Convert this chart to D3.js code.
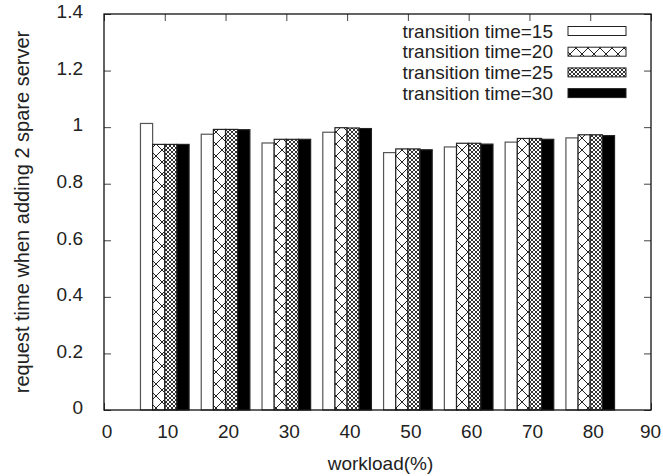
<!DOCTYPE html>
<html><head><meta charset="utf-8">
<script src="https://cdn.jsdelivr.net/npm/d3@7"></script>
<style>body{margin:0;background:#fff}svg{display:block}text{font-family:"Liberation Sans",Arial,sans-serif;fill:#222}</style>
</head><body><svg id="c" width="663" height="476"></svg>
<script>
const workloads = [10, 20, 30, 40, 50, 60, 70, 80];
const seriesNames = ["transition time=15", "transition time=20", "transition time=25", "transition time=30"];
const t15 = [1.013, 0.975, 0.944, 0.982, 0.910, 0.930, 0.947, 0.962];
const t20 = [0.939, 0.992, 0.957, 0.998, 0.923, 0.943, 0.960, 0.973];
const t25 = [0.939, 0.992, 0.957, 0.997, 0.923, 0.943, 0.960, 0.973];
const t30 = [0.939, 0.991, 0.957, 0.995, 0.920, 0.940, 0.957, 0.970];
const xTicks = [0, 10, 20, 30, 40, 50, 60, 70, 80, 90];
const yTicks = [0, 0.2, 0.4, 0.6, 0.8, 1, 1.2, 1.4];
const series = [t15, t20, t25, t30];
const fills = ["#fff", "url(#hatch)", "url(#dense)", "#000"];

const svg = d3.select("#c");
const m = {l: 104, r: 651, t: 14, b: 410};
const x = d3.scaleLinear().domain([0, 90]).range([m.l, m.r]);
const y = d3.scaleLinear().domain([0, 1.4]).range([m.b, m.t]);

const defs = svg.append("defs");
const h = defs.append("pattern").attr("id", "hatch").attr("patternUnits", "userSpaceOnUse")
  .attr("width", 12).attr("height", 12);
h.append("rect").attr("width", 12).attr("height", 12).attr("fill", "#fff");
h.append("path").attr("d", "M0,0L12,12M12,0L0,12").attr("stroke", "#222").attr("stroke-width", 1);
const dn = defs.append("pattern").attr("id", "dense").attr("patternUnits", "userSpaceOnUse")
  .attr("width", 4).attr("height", 4);
dn.append("rect").attr("width", 4).attr("height", 4).attr("fill", "#fff");
dn.append("path").attr("d", "M0,0L4,4M4,0L0,4").attr("stroke", "#333").attr("stroke-width", 1);

// bars
const bw = 2;
series.forEach((vals, si) => {
  svg.append("g").selectAll("rect").data(workloads).join("rect")
    .attr("x", (d) => x(d - 4 + si * bw))
    .attr("width", x(bw) - x(0))
    .attr("y", (d, i) => y(vals[i]))
    .attr("height", (d, i) => y(0) - y(vals[i]))
    .attr("fill", fills[si])
    .attr("stroke", si === 0 ? "#555" : "#222").attr("stroke-width", 1.2);
});

// axes with mirrored inward ticks
const tl = 7;
const axB = svg.append("g").attr("transform", `translate(0,${m.b})`)
  .call(d3.axisBottom(x).tickValues(xTicks).tickSize(-tl).tickPadding(15).tickFormat(d3.format("d")));
const axT = svg.append("g").attr("transform", `translate(0,${m.t})`)
  .call(d3.axisTop(x).tickValues(xTicks).tickSize(-tl).tickFormat(""));
const axL = svg.append("g").attr("transform", `translate(${m.l},0)`)
  .call(d3.axisLeft(y).tickValues(yTicks).tickSize(-tl).tickPadding(21).tickFormat(d3.format("~g")));
const axR = svg.append("g").attr("transform", `translate(${m.r},0)`)
  .call(d3.axisRight(y).tickValues(yTicks).tickSize(-tl).tickFormat(""));
[axB, axT, axL, axR].forEach(a => {
  a.select(".domain").remove();
  a.selectAll(".tick line").attr("stroke", "#444");
  a.selectAll("text").style("font-size", "19px").attr("fill", "#222");
});
axB.selectAll("text").attr("dy", "0.71em").attr("dx", (d) => d === 90 ? -1 : 2.5);
axL.selectAll("text").attr("dy", "0.2em");

svg.append("rect").attr("x", m.l).attr("y", m.t).attr("width", m.r - m.l).attr("height", m.b - m.t)
  .attr("fill", "none").attr("stroke", "#111").attr("stroke-width", 1.3);

// legend
const lg = svg.append("g");
seriesNames.forEach((n, i) => {
  const cy = 31 + i * 20.7;
  lg.append("text").attr("x", 553).attr("y", cy).attr("dy", "0.35em").attr("text-anchor", "end")
    .style("font-size", "19px").text(n);
  lg.append("rect").attr("x", 568).attr("y", cy - 4.5).attr("width", 58).attr("height", 9)
    .attr("fill", fills[i]).attr("stroke", "#222").attr("stroke-width", 1);
});

// axis titles
svg.append("text").attr("x", (m.l + m.r) / 2 + 3).attr("y", 470).attr("text-anchor", "middle")
  .style("font-size", "19px").text("workload(%)");
svg.append("text").attr("transform", `translate(22,${(m.t + m.b) / 2}) rotate(-90)`)
  .attr("text-anchor", "middle").attr("dy", "0.35em").style("font-size", "20px")
  .text("request time when adding 2 spare server");
</script></body></html>
